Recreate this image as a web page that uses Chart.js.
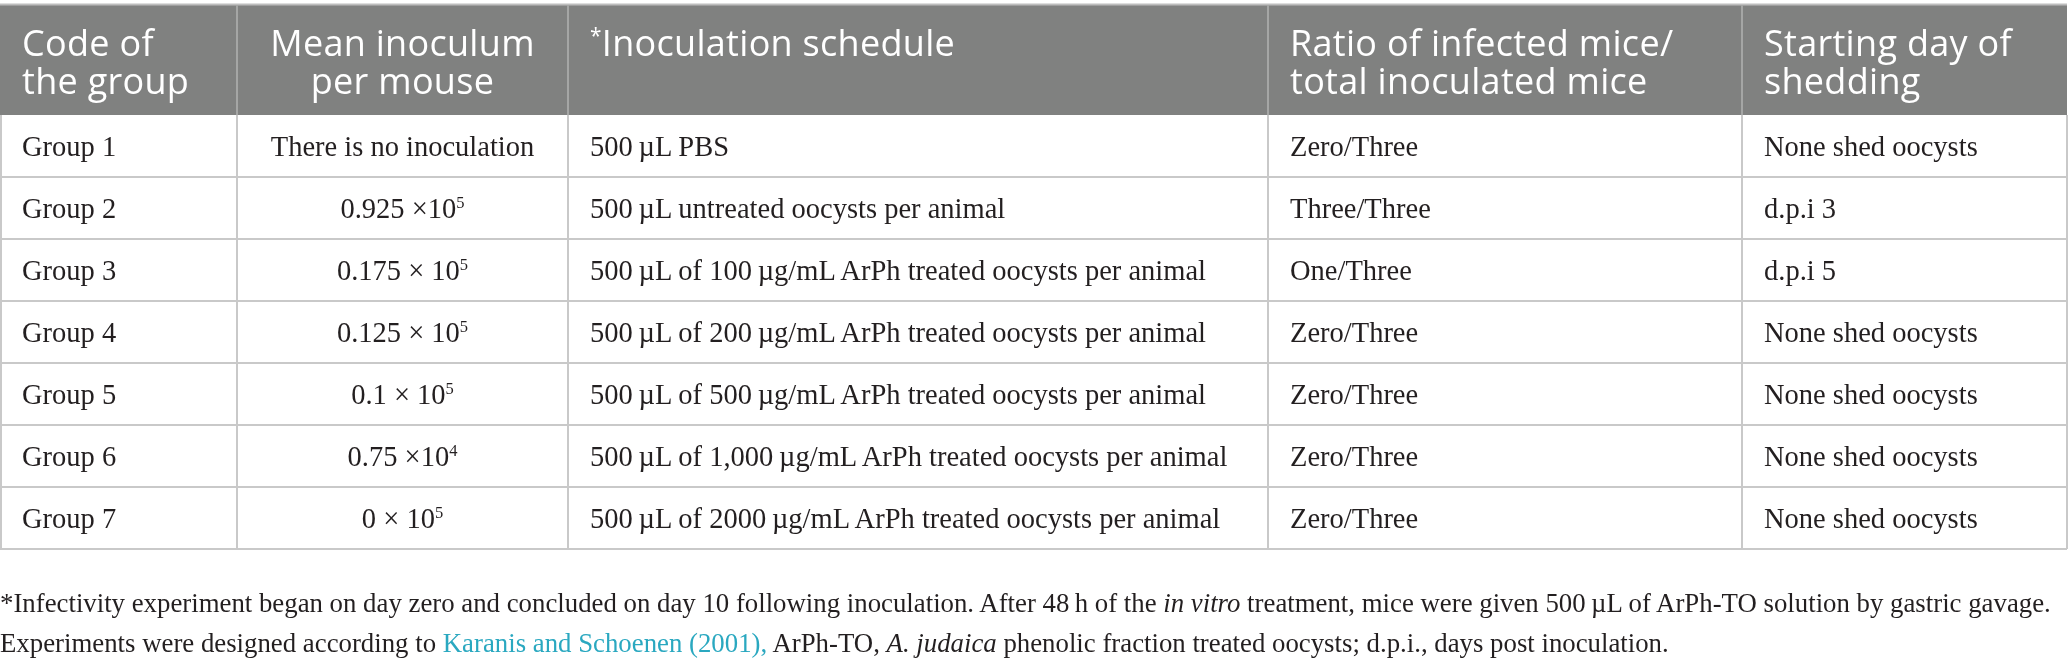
<!DOCTYPE html>
<html>
<head>
<meta charset="utf-8">
<script src="https://cdn.jsdelivr.net/npm/chart.js@4.4.1/dist/chart.umd.min.js"></script>
<style>
  html, body { margin: 0; padding: 0; background: #ffffff; }
  #wrap { position: relative; width: 2068px; height: 664px; overflow: hidden; }
  #wrap canvas { position: absolute; left: 0; top: 0; }
  .cell { position: absolute; white-space: nowrap; box-sizing: border-box; }
  .hd { font-family: "Open Sans", sans-serif; font-weight: 400; font-size: 36px; line-height: 38px; letter-spacing: 0.3px; color: #ffffff; }
  .bd { font-family: "Liberation Serif", "DejaVu Serif", serif; font-size: 28.5px; line-height: 28.5px; color: #231f20; }
  .fn { font-family: "Liberation Serif", "DejaVu Serif", serif; font-size: 26.8px; line-height: 40px; color: #231f20; }
  .sup { font-size: 0.58em; position: relative; top: -0.62em; }
  .link { color: #2aa8c0; }
</style>
</head>
<body>
<div id="wrap"><canvas id="c" width="2068" height="664"></canvas></div>
<script>
// ---------- data ----------
const headerLines = [
  ["Code of", "the group"],
  ["Mean inoculum", "per mouse"],
  ["<span class='sup'>*</span>Inoculation schedule"],
  ["Ratio of infected mice/", "total inoculated mice"],
  ["Starting day of", "shedding"]
];
const groupCodes = ["Group 1", "Group 2", "Group 3", "Group 4", "Group 5", "Group 6", "Group 7"];
const inoculumMantissa = [null, "0.925 ×", "0.175 × ", "0.125 × ", "0.1 × ", "0.75 ×", "0 × "];
const inoculumExponent = [null, 5, 5, 5, 5, 4, 5];
const noInoculumText = "There is no inoculation";
const schedules = [
  "500\u2009µL PBS",
  "500\u2009µL untreated oocysts per animal",
  "500\u2009µL of 100\u2009µg/mL ArPh treated oocysts per animal",
  "500\u2009µL of 200\u2009µg/mL ArPh treated oocysts per animal",
  "500\u2009µL of 500\u2009µg/mL ArPh treated oocysts per animal",
  "500\u2009µL of 1,000\u2009µg/mL ArPh treated oocysts per animal",
  "500\u2009µL of 2000\u2009µg/mL ArPh treated oocysts per animal"
];
const infectedRatios = ["Zero/Three", "Three/Three", "One/Three", "Zero/Three", "Zero/Three", "Zero/Three", "Zero/Three"];
const sheddingStart = ["None shed oocysts", "d.p.i 3", "d.p.i 5", "None shed oocysts", "None shed oocysts", "None shed oocysts", "None shed oocysts"];
const footnoteLines = [
  "*Infectivity experiment began on day zero and concluded on day 10 following inoculation. After 48\u2009h of the <i>in vitro</i> treatment, mice were given 500\u2009µL of ArPh-TO solution by gastric gavage.",
  "Experiments were designed according to <span class='link'>Karanis and Schoenen (2001),</span> ArPh-TO, <i>A. judaica</i> phenolic fraction treated oocysts; d.p.i., days post inoculation."
];

// ---------- layout (scale units) ----------
const colEdges = [0, 237, 568, 1268, 1742, 2067];
const colAlign = ["left", "center", "left", "left", "left"];
const headerTop = 5, headerBottom = 115, rowHeight = 62;
const padX = 22;

function rowTop(i) { return headerBottom + i * rowHeight; }

const tablePlugin = {
  id: "tablePlugin",
  beforeDatasetsDraw(chart) {
    const ctx = chart.ctx, xs = chart.scales.x, ys = chart.scales.y;
    const X = v => xs.getPixelForValue(v), Y = v => ys.getPixelForValue(v);
    const nRows = groupCodes.length;
    const left = X(colEdges[0]), right = X(colEdges[colEdges.length - 1]);
    const bottom = Y(rowTop(nRows));
    ctx.save();
    ctx.fillStyle = "#808180";
    ctx.fillRect(left, Y(headerTop), right - left, Y(headerBottom) - Y(headerTop));
    ctx.strokeStyle = "#bdbdbd"; ctx.lineWidth = 2;
    ctx.beginPath(); ctx.moveTo(left, Y(headerTop) - 0.5); ctx.lineTo(right, Y(headerTop) - 0.5); ctx.stroke();
    ctx.strokeStyle = "#a5a6a5"; ctx.lineWidth = 2;
    for (let c = 1; c < colEdges.length - 1; c++) {
      ctx.beginPath(); ctx.moveTo(X(colEdges[c]), Y(headerTop)); ctx.lineTo(X(colEdges[c]), Y(headerBottom)); ctx.stroke();
    }
    ctx.strokeStyle = "#c9c9c9"; ctx.lineWidth = 2;
    for (let r = 1; r <= nRows; r++) {
      ctx.beginPath(); ctx.moveTo(left, Y(rowTop(r))); ctx.lineTo(right, Y(rowTop(r))); ctx.stroke();
    }
    for (let c = 0; c < colEdges.length; c++) {
      const x = c === 0 ? X(colEdges[c]) + 1 : X(colEdges[c]);
      ctx.beginPath(); ctx.moveTo(x, Y(headerBottom)); ctx.lineTo(x, bottom); ctx.stroke();
    }
    ctx.restore();
  }
};

const chart = new Chart(document.getElementById("c"), {
  type: "scatter",
  data: { datasets: [{ data: [], pointRadius: 0 }] },
  options: {
    responsive: false,
    animation: false,
    devicePixelRatio: 1,
    layout: { padding: 0 },
    plugins: { legend: { display: false }, tooltip: { enabled: false } },
    scales: {
      x: { type: "linear", min: 0, max: 2068, display: false },
      y: { type: "linear", min: 0, max: 664, reverse: true, display: false }
    }
  },
  plugins: [tablePlugin]
});

// ---------- text overlay positioned through the chart scales ----------
const wrap = document.getElementById("wrap");
const xs = chart.scales.x, ys = chart.scales.y;
function addCell(cls, html, c, topVal, align) {
  const d = document.createElement("div");
  d.className = "cell " + cls;
  const l = xs.getPixelForValue(colEdges[c]);
  const r = xs.getPixelForValue(colEdges[c + 1]);
  d.style.left = l + "px";
  d.style.width = (r - l) + "px";
  d.style.top = ys.getPixelForValue(topVal) + "px";
  d.style.textAlign = align;
  d.style.paddingLeft = align === "left" ? padX + "px" : "0px";
  d.innerHTML = html;
  wrap.appendChild(d);
}
headerLines.forEach((lines, c) => {
  addCell("hd", lines.join("<br>"), c, headerTop + 19, colAlign[c]);
});
groupCodes.forEach((g, i) => {
  const t = rowTop(i) + 18;
  const inoc = inoculumMantissa[i] === null ? noInoculumText
    : inoculumMantissa[i] + "10<span class='sup'>" + inoculumExponent[i] + "</span>";
  const rowVals = [g, inoc, schedules[i], infectedRatios[i], sheddingStart[i]];
  rowVals.forEach((v, c) => addCell("bd", v, c, t, colAlign[c]));
});
const fn = document.createElement("div");
fn.className = "cell fn";
fn.style.left = xs.getPixelForValue(0) + "px";
fn.style.top = ys.getPixelForValue(582.5) + "px";
fn.innerHTML = footnoteLines.join("<br>");
wrap.appendChild(fn);
</script>
</body>
</html>
